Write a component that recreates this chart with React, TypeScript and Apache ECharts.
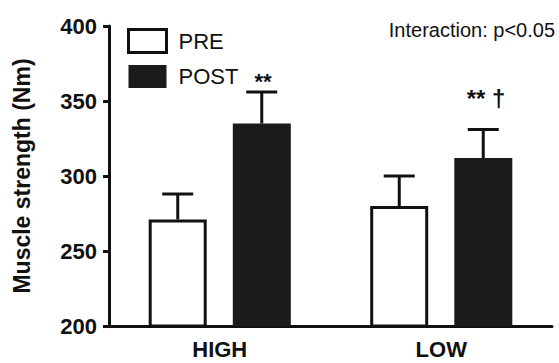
import React, { useEffect, useRef } from "react";
import * as echarts from "echarts";

const categories = ["HIGH", "LOW"];
const preValues = [271, 280];
const postValues = [335, 312];
const preErrors = [17, 20];
const postErrors = [21, 19];
const yTicks = { min: 200, max: 400, interval: 50 };
const yTitle = "Muscle strength (Nm)";
const interactionText = "Interaction: p<0.05";
const highMark = "**";
const lowMark = "** \u2020";

const FONT = "'Liberation Sans', Arial, Helvetica, sans-serif";
const INK = "#111111";
const DARK = "#1d1a1a";
const BAR_OFFSET = 42;
const CAP_HALF = 15.5;

export default function App() {
  const ref = useRef<HTMLDivElement>(null);
  useEffect(() => {
    if (!ref.current) return;
    const chart = echarts.init(ref.current, undefined, { renderer: "svg" });

    const errData = (vals: number[], errs: number[]) =>
      vals.map((v, i) => [i, v, errs[i]]);

    const makeErr = (offset: number) => (params: any, api: any) => {
      const idx = api.value(0);
      const mean = api.value(1);
      const err = api.value(2);
      const base = api.coord([idx, mean]);
      const top = api.coord([idx, mean + err]);
      const x = base[0] + offset;
      const style = { stroke: INK, lineWidth: 3 };
      return {
        type: "group",
        children: [
          { type: "line", shape: { x1: x, y1: base[1], x2: x, y2: top[1] }, style },
          { type: "line", shape: { x1: x - CAP_HALF, y1: top[1], x2: x + CAP_HALF, y2: top[1] }, style },
        ],
      };
    };

    chart.setOption({
      animation: false,
      textStyle: { fontFamily: FONT },
      grid: { left: 109, right: 7, top: 26, bottom: 37 },
      legend: {
        orient: "vertical",
        left: 122,
        top: 23,
        itemWidth: 38,
        itemHeight: 23,
        itemGap: 11,
        textStyle: { fontSize: 22, color: INK, fontFamily: FONT, padding: [0, 0, 0, 7] },
        data: [
          { name: "PRE", icon: "rect", itemStyle: { color: "#fff", borderColor: INK, borderWidth: 3 } },
          { name: "POST", icon: "rect", itemStyle: { color: DARK, borderWidth: 0 } },
        ],
      },
      xAxis: {
        type: "category",
        data: categories,
        axisLine: { lineStyle: { color: INK, width: 3 } },
        axisTick: { alignWithLabel: true, length: 6, lineStyle: { color: INK, width: 3 } },
        axisLabel: { fontSize: 22, fontWeight: "bold", color: INK, margin: 12, fontFamily: FONT },
      },
      yAxis: {
        type: "value",
        min: yTicks.min,
        max: yTicks.max,
        interval: yTicks.interval,
        splitLine: { show: false },
        axisLine: { show: true, lineStyle: { color: INK, width: 3 } },
        axisTick: { show: true, length: 6, lineStyle: { color: INK, width: 3 } },
        axisLabel: { fontSize: 22, fontWeight: "bold", color: INK, margin: 12, fontFamily: FONT },
        name: yTitle,
        nameLocation: "middle",
        nameRotate: 90,
        nameGap: 76,
        nameTextStyle: { fontSize: 23, fontWeight: "bold", color: INK, fontFamily: FONT },
      },
      series: [
        {
          name: "PRE",
          type: "bar",
          data: preValues,
          barWidth: 58,
          barGap: "45%",
          itemStyle: { color: "#fff", borderColor: INK, borderWidth: 3 },
        },
        {
          name: "POST",
          type: "bar",
          data: postValues,
          barWidth: 58,
          barGap: "45%",
          itemStyle: { color: DARK },
        },
        {
          type: "custom",
          data: errData(preValues, preErrors),
          renderItem: makeErr(-BAR_OFFSET),
          z: 5,
        },
        {
          type: "custom",
          data: errData(postValues, postErrors),
          renderItem: makeErr(BAR_OFFSET),
          z: 5,
        },
      ],
      graphic: [
        {
          type: "text",
          right: 4,
          top: 20,
          style: { text: interactionText, fontSize: 20, fill: INK, fontFamily: FONT },
        },
        {
          type: "text",
          x: 263,
          y: 70,
          style: { text: highMark, fontSize: 22, fontWeight: "bold", fill: INK, fontFamily: FONT, align: "center", verticalAlign: "top" },
        },
        {
          type: "text",
          x: 486,
          y: 86,
          style: { text: lowMark, fontSize: 24, fontWeight: "bold", fill: INK, fontFamily: FONT, align: "center", verticalAlign: "top" },
        },
      ],
    });
    return () => chart.dispose();
  }, []);
  return (
    <div
      ref={ref}
      style={{ position: "fixed", left: 0, top: 0, width: 559, height: 363, background: "#fff" }}
    />
  );
}
